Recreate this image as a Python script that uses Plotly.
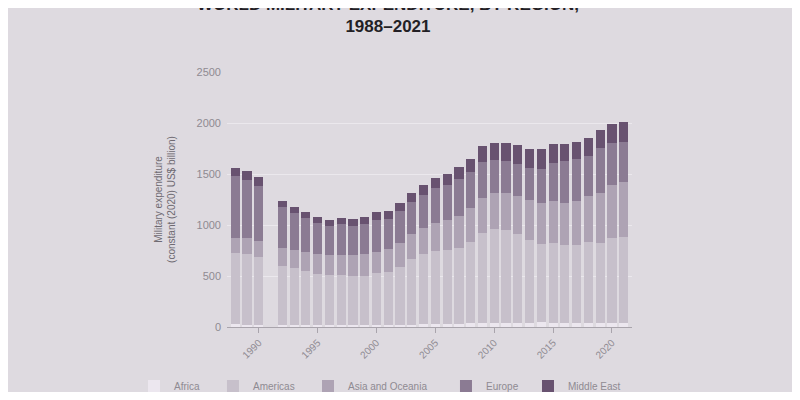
import plotly.graph_objects as go

# SIPRI-style world military expenditure by region (constant 2020 US$ bn), 1991 not available
years = [1988, 1989, 1990, 1992, 1993, 1994, 1995, 1996, 1997, 1998, 1999,
         2000, 2001, 2002, 2003, 2004, 2005, 2006, 2007, 2008, 2009, 2010,
         2011, 2012, 2013, 2014, 2015, 2016, 2017, 2018, 2019, 2020, 2021]

africa = [25, 24, 23, 20, 19, 18, 18, 18, 18, 18, 19,
          20, 21, 22, 23, 25, 26, 28, 31, 35, 37, 38,
          40, 41, 42, 45, 43, 42, 40, 40, 41, 42, 40]

americas = [700, 695, 665, 580, 560, 530, 505, 490, 490, 480, 485,
            505, 515, 570, 640, 690, 715, 725, 745, 800, 880, 925,
            910, 870, 810, 770, 785, 760, 765, 790, 780, 830, 840]

asia_oceania = [150, 155, 160, 175, 180, 185, 190, 195, 200, 205, 210,
                215, 225, 235, 245, 260, 275, 295, 315, 335, 350, 352,
                365, 375, 390, 400, 405, 411, 430, 450, 490, 520, 538]

europe = [604, 570, 530, 398, 357, 336, 308, 291, 298, 292, 298,
          310, 296, 306, 318, 324, 342, 341, 360, 349, 354, 320,
          313, 315, 314, 337, 373, 412, 410, 399, 441, 409, 392]

middle_east = [80, 82, 90, 60, 58, 56, 55, 56, 60, 62, 64,
               75, 78, 80, 85, 90, 100, 108, 115, 125, 150, 165,
               172, 180, 186, 190, 185, 166, 165, 170, 176, 185, 196]

region_names = ["Africa", "Americas", "Asia and Oceania", "Europe", "Middle East"]
region_values = [africa, americas, asia_oceania, europe, middle_east]
colors = ["#ece7ef", "#c7c0cb", "#aea3b4", "#8b7b93", "#685270"]

year_ticks = [1990, 1995, 2000, 2005, 2010, 2015, 2020]
y_ticks = [0, 500, 1000, 1500, 2000, 2500]

bg = "#dedae0"
grey = "#8f8a92"

# one small legend per region so the entries can be spread out like the original
legend_x = [-0.2296, -0.0346, 0.2, 0.5407, 0.7432]
legend_ids = ["legend", "legend2", "legend3", "legend4", "legend5"]

fig = go.Figure()
for name, vals, col, lid in zip(region_names, region_values, colors, legend_ids):
    fig.add_trace(go.Bar(x=years, y=vals, name=name, legend=lid,
                         marker=dict(color=col, line=dict(width=0))))

# page body has an 8px margin, so the figure is sized to fit the 800x400 window
fig.update_layout(
    barmode="stack",
    bargap=0.22,
    width=784, height=384,
    paper_bgcolor=bg, plot_bgcolor=bg,
    margin=dict(l=219, r=160, t=64, b=65, autoexpand=False),
    font=dict(family="Liberation Sans", color=grey, size=10),
    showlegend=True,
)
for lid, lx in zip(legend_ids, legend_x):
    fig.update_layout({lid: dict(
        orientation="h",
        x=lx, xanchor="left",
        y=-0.231, yanchor="middle",
        font=dict(size=10, color=grey),
        itemwidth=30,
        bgcolor="rgba(0,0,0,0)",
    )})

# title as an annotation so it can sit partly above the top edge, as in the original
fig.add_annotation(
    text="<b>WORLD MILITARY EXPENDITURE, BY REGION,<br>1988–2021</b>",
    xref="paper", yref="paper",
    x=(380 - 219) / 405, y=1 + (64 - 8) / 255,
    xanchor="center", yanchor="middle",
    showarrow=False,
    font=dict(family="Liberation Sans", size=17, color="#231f25"),
)

fig.update_xaxes(
    range=[1987.3, 2021.7],
    tickmode="array", tickvals=year_ticks,
    ticktext=[str(y) for y in year_ticks],
    tickangle=-45,
    ticks="outside", ticklen=5, tickcolor="#a9a4ac",
    showline=True, linecolor="#a9a4ac", linewidth=1,
    showgrid=False, zeroline=False, automargin=False,
    tickfont=dict(size=10, color=grey),
)

fig.update_yaxes(
    range=[0, 2500],
    tickmode="array", tickvals=y_ticks,
    showgrid=True, gridcolor="#ebe8ed", gridwidth=1,
    zeroline=False, showline=False, automargin=False,
    ticks="", ticklabelstandoff=5,
    tickfont=dict(size=11, color=grey),
    title=dict(text="Military expenditure<br>(constant (2020) US$ billion)",
               font=dict(size=10, color="#6f6a72"), standoff=19),
)

fig.write_html("out.html")
